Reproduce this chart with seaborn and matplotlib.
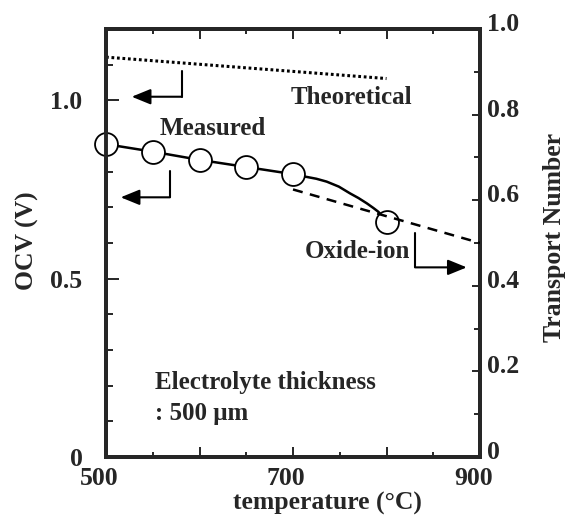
import numpy as np
import pandas as pd
import matplotlib
matplotlib.use("Agg")
import matplotlib.pyplot as plt
import matplotlib.ticker as mticker
from matplotlib.transforms import ScaledTranslation
import seaborn as sns

# data
temp_measured = [500, 550, 600, 650, 700, 800]
ocv_measured = [0.877, 0.856, 0.833, 0.813, 0.793, 0.660]

# guide line through the measured points (bends after 700 C)
temp_guide = [500, 550, 600, 650, 700, 713, 725, 736, 749, 761, 770, 779, 786, 791, 796, 800]
ocv_guide = [0.877, 0.856, 0.833, 0.813, 0.793, 0.786, 0.780, 0.772, 0.758, 0.739, 0.726,
             0.711, 0.698, 0.688, 0.675, 0.660]

temp_theo = [500, 800]
ocv_theo = [1.121, 1.061]

temp_tn = [700, 900]
tn_oxide = [0.625, 0.500]

x_ticklabels = {500: "500", 700: "700", 900: "900"}
left_ticklabels = {0.0: "0", 0.5: "0.5", 1.0: "1.0"}

sns.set_style("ticks")
plt.rcParams["font.family"] = ["Liberation Serif", "DejaVu Serif"]
plt.rcParams["font.weight"] = "bold"

fig = plt.figure(figsize=(5.69, 5.19), dpi=100)
ax = fig.add_axes([0.1863, 0.1195, 0.6573, 0.8247])
ax2 = ax.twinx()

guide = pd.DataFrame({"temp": temp_guide, "ocv": ocv_guide})
meas = pd.DataFrame({"temp": temp_measured, "ocv": ocv_measured})
theo = pd.DataFrame({"temp": temp_theo, "ocv": ocv_theo})
tn = pd.DataFrame({"temp": temp_tn, "tn": tn_oxide})

sns.lineplot(data=theo, x="temp", y="ocv", ax=ax, color="black", lw=2.2, zorder=3)
ax.lines[-1].set_dashes((0.9, 0.9))
sns.lineplot(data=guide, x="temp", y="ocv", ax=ax, color="black", lw=1.8, zorder=3)
sns.lineplot(data=tn, x="temp", y="tn", ax=ax2, color="black", lw=1.8, zorder=3)
ax2.lines[-1].set_dashes((4, 3))
sns.scatterplot(data=meas, x="temp", y="ocv", ax=ax, s=16.5 ** 2, color="white",
                edgecolor="black", linewidth=1.3, zorder=10, clip_on=False)

ax.set_xlim(500, 900)
ax.set_ylim(0, 1.2)
ax2.set_ylim(0, 1.0)
ax.set_xlabel("")
ax.set_ylabel("")
ax2.set_ylabel("")

ax.xaxis.set_major_locator(mticker.MultipleLocator(100))
ax.xaxis.set_minor_locator(mticker.MultipleLocator(50))
ax.xaxis.set_major_formatter(mticker.FuncFormatter(lambda v, p: x_ticklabels.get(int(round(v)), "")))
ax.yaxis.set_major_locator(mticker.FixedLocator([0.0, 0.5, 1.0]))
ax.yaxis.set_minor_locator(mticker.MultipleLocator(0.1))
ax.yaxis.set_major_formatter(mticker.FuncFormatter(lambda v, p: left_ticklabels.get(round(v, 1), "")))
ax2.yaxis.set_major_locator(mticker.MultipleLocator(0.2))
ax2.yaxis.set_minor_locator(mticker.MultipleLocator(0.1))
ax2.yaxis.set_major_formatter(mticker.FuncFormatter(lambda v, p: "0" if v == 0 else f"{v:.1f}"))

for a in (ax, ax2):
    for s in a.spines.values():
        s.set_linewidth(2.8)
        s.set_visible(True)

ax.tick_params(axis="x", which="both", direction="in", top=True, bottom=True, width=1.4,
               labelsize=18.5, pad=7)
ax.tick_params(axis="x", which="major", length=7.5)
ax.tick_params(axis="x", which="minor", length=3.5)
ax.tick_params(axis="y", which="both", direction="in", left=True, right=False, width=1.4,
               labelsize=18.5, pad=17)
ax.tick_params(axis="y", which="major", length=9)
ax.tick_params(axis="y", which="minor", length=5)
ax2.tick_params(axis="y", which="both", direction="in", right=True, width=1.4,
                labelsize=18.5, pad=5)
ax2.tick_params(axis="y", which="major", length=6)
ax2.tick_params(axis="y", which="minor", length=4)

for lab in ax2.get_yticklabels():
    lab.set_transform(lab.get_transform() + ScaledTranslation(0, 5 / 72, fig.dpi_scale_trans))
for lab in ax.get_xticklabels():
    lab.set_transform(lab.get_transform() + ScaledTranslation(-5 / 72, 0, fig.dpi_scale_trans))

# bent arrows pointing to the relevant axis
arrow_kw = dict(arrowstyle="-|>,head_length=1.15,head_width=0.47", color="black",
                lw=1.5, shrinkA=0, shrinkB=0)
ax.plot([581, 581], [1.083, 1.010], color="black", lw=1.5)
ax.annotate("", xy=(527.5, 1.010), xytext=(581, 1.010), arrowprops=arrow_kw)
ax.plot([568.4, 568.4], [0.803, 0.728], color="black", lw=1.5)
ax.annotate("", xy=(515.7, 0.728), xytext=(568.4, 0.728), arrowprops=arrow_kw)
ax2.plot([830.5, 830.5], [0.523, 0.443], color="black", lw=1.5)
ax2.annotate("", xy=(885.8, 0.443), xytext=(830.5, 0.443), arrowprops=arrow_kw)

ax.text(762, 1.009, "Theoretical", ha="center", va="center", fontsize=18, fontweight="bold")
ax.text(557.8, 0.922, "Measured", ha="left", va="center", fontsize=18, fontweight="bold")
ax.text(825, 0.575, "Oxide-ion", ha="right", va="center", fontsize=18, fontweight="bold")
ax.text(552, 0.19, "Electrolyte thickness", ha="left", va="baseline", fontsize=18,
        fontweight="bold")
ax.text(552, 0.104, ": 500 \u03bcm", ha="left", va="baseline", fontsize=18,
        fontweight="bold")

fig.text(327 / 569, 1 - 503 / 519, "temperature (\u00b0C)", ha="center", va="center",
         fontsize=18.5, fontweight="bold")
fig.text(27 / 569, 1 - 241 / 519, "OCV (V)", rotation=90, ha="center", va="center",
         fontsize=18.5, fontweight="bold")
fig.text(555 / 569, 1 - 238 / 519, "Transport Number", rotation=90, ha="center",
         va="center", fontsize=18.5, fontweight="bold")

fig.savefig("out.png", dpi=100)
